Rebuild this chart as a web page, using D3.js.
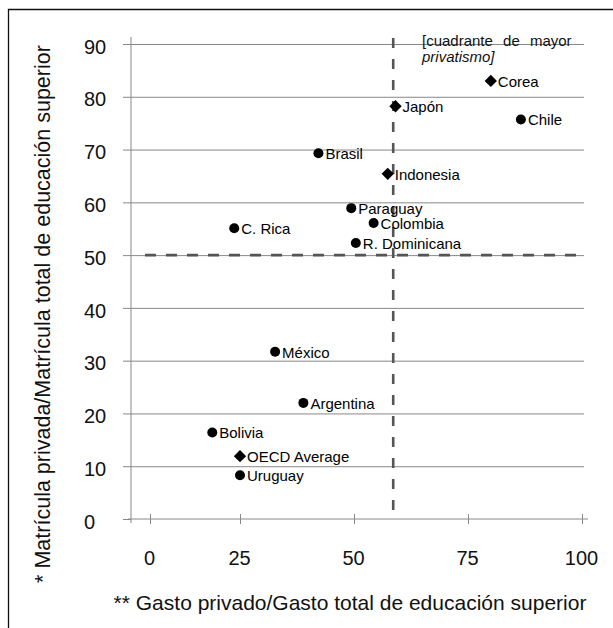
<!DOCTYPE html>
<html>
<head>
<meta charset="utf-8">
<script src="https://cdn.jsdelivr.net/npm/d3@7"></script>
<style>
  html, body { margin: 0; padding: 0; background: #fff; }
  svg { display: block; font-family: "Liberation Sans", Arial, sans-serif; }
</style>
</head>
<body>
<svg id="chart" width="613" height="628"></svg>
<script>
// ---- data ----
const countries = ["Corea", "Japón", "Chile", "Brasil", "Indonesia", "Paraguay", "Colombia",
                   "C. Rica", "R. Dominicana", "México", "Argentina", "Bolivia", "OECD Average", "Uruguay"];
const gastoPrivado = [80.0, 59.1, 86.6, 42.2, 57.4, 49.4, 54.3, 23.4, 50.4, 32.7, 38.9, 17.3, 25.0, 25.0];
const matriculaPrivada = [83.0, 78.2, 75.7, 69.3, 65.4, 58.9, 56.1, 55.1, 52.3, 31.7, 22.0, 16.4, 11.9, 8.3];
const markerType = ["diamond", "diamond", "circle", "circle", "diamond", "circle", "circle",
                    "circle", "circle", "circle", "circle", "circle", "diamond", "circle"];
const xTicks = [0, 25, 50, 75, 100];
const xTickLabels = ["0", "25", "50", "75", "100"];
const yTicks = [0, 10, 20, 30, 40, 50, 60, 70, 80, 90];
const thresholdX = 58.6;
const thresholdY = 50;
const yTitle = "* Matrícula privada/Matrícula total de educación superior";
const xTitle = "** Gasto privado/Gasto total de educación superior";
const noteLines = ["[cuadrante de mayor", "privatismo]"];

// ---- layout ----
const svg = d3.select("#chart");
svg.append("rect").attr("width", 613).attr("height", 628).attr("fill", "#fff");

const axisX = 131, plotRight = 584, plotTop = 44, plotBottom = 519;
const x = d3.scaleLinear().domain([0, 25, 100]).range([150, 240, 582]);
const y = d3.scaleLinear().domain([0, 90]).range([plotBottom, plotTop]);
const gridColor = "#888";
const fontFam = "'Liberation Sans', Arial, sans-serif";

// outer frame (extends past right/bottom edge)
svg.append("path").attr("d", "M8.5,640 L8.5,9.5 L640,9.5")
  .attr("fill", "none").attr("stroke", "#111").attr("stroke-width", 1.3);

// gridlines
const grid = svg.append("g").attr("transform", `translate(${axisX},0)`)
  .call(d3.axisLeft(y).tickValues(yTicks.filter(v => v > 0)).tickSize(-(plotRight - axisX)).tickFormat(""));
grid.select(".domain").remove();
grid.selectAll("line").attr("stroke", gridColor);

// y axis ticks + labels
const yAx = svg.append("g").attr("transform", `translate(${axisX},0)`)
  .call(d3.axisLeft(y).tickValues(yTicks).tickSize(8).tickSizeOuter(0));
yAx.select(".domain").remove();
yAx.selectAll("line").attr("stroke", gridColor);
yAx.selectAll("text")
  .attr("x", 84 - axisX).attr("text-anchor", "start").attr("dy", "0.46em")
  .attr("font-size", 20).attr("fill", "#111")
  .style("font-family", fontFam);
// y axis line
svg.append("line").attr("x1", axisX).attr("x2", axisX).attr("y1", 37).attr("y2", 523)
  .attr("stroke", gridColor);

// x axis line + crossing ticks
svg.append("line").attr("x1", 128).attr("x2", 588).attr("y1", plotBottom).attr("y2", plotBottom)
  .attr("stroke", gridColor);
const xAx = svg.append("g").attr("transform", `translate(0,${plotBottom - 5})`)
  .call(d3.axisBottom(x).tickValues(xTicks).tickSize(10).tickFormat((d, i) => xTickLabels[i]));
xAx.select(".domain").remove();
xAx.selectAll("line").attr("stroke", gridColor);
xAx.selectAll("text")
  .attr("y", 0).attr("dy", 0)
  .attr("transform", "translate(-1,51)")
  .attr("font-size", 20).attr("fill", "#111")
  .style("font-family", fontFam);

// threshold dashed lines
svg.append("line")
  .attr("x1", 145).attr("x2", plotRight).attr("y1", y(thresholdY)).attr("y2", y(thresholdY))
  .attr("stroke", "#555").attr("stroke-width", 2.6).attr("stroke-dasharray", "11,10");
svg.append("line")
  .attr("x1", x(thresholdX)).attr("x2", x(thresholdX)).attr("y1", 38).attr("y2", 517)
  .attr("stroke", "#555").attr("stroke-width", 2.6).attr("stroke-dasharray", "10,11");

// points
const pts = countries.map((c, i) => ({ name: c, gx: gastoPrivado[i], my: matriculaPrivada[i], type: markerType[i] }));
const diamond = d3.symbol().type(d3.symbolSquare).size(76);
const g = svg.append("g");
pts.forEach(p => {
  const cx = x(p.gx), cy = y(p.my);
  if (p.type === "circle") {
    g.append("circle").attr("cx", cx).attr("cy", cy).attr("r", 5).attr("fill", "#000");
  } else {
    g.append("path").attr("d", diamond()).attr("transform", `translate(${cx},${cy}) rotate(45)`).attr("fill", "#000");
  }
  g.append("text").attr("x", cx + 7).attr("y", cy + 6)
    .attr("font-size", 15).attr("fill", "#000").text(p.name);
});

// note
svg.append("text").attr("x", 422).attr("y", 46).attr("font-size", 15).attr("fill", "#111")
  .attr("word-spacing", 6).text(noteLines[0]);
svg.append("text").attr("x", 422).attr("y", 62).attr("font-size", 15).attr("fill", "#111")
  .attr("font-style", "italic").text(noteLines[1]);

// axis titles
svg.append("text").attr("transform", "translate(50,314) rotate(-90)")
  .attr("text-anchor", "middle").attr("font-size", 21.5).attr("fill", "#111").text(yTitle);
svg.append("text").attr("x", 350).attr("y", 610)
  .attr("text-anchor", "middle").attr("font-size", 21).attr("fill", "#111").text(xTitle);
</script>
</body>
</html>
